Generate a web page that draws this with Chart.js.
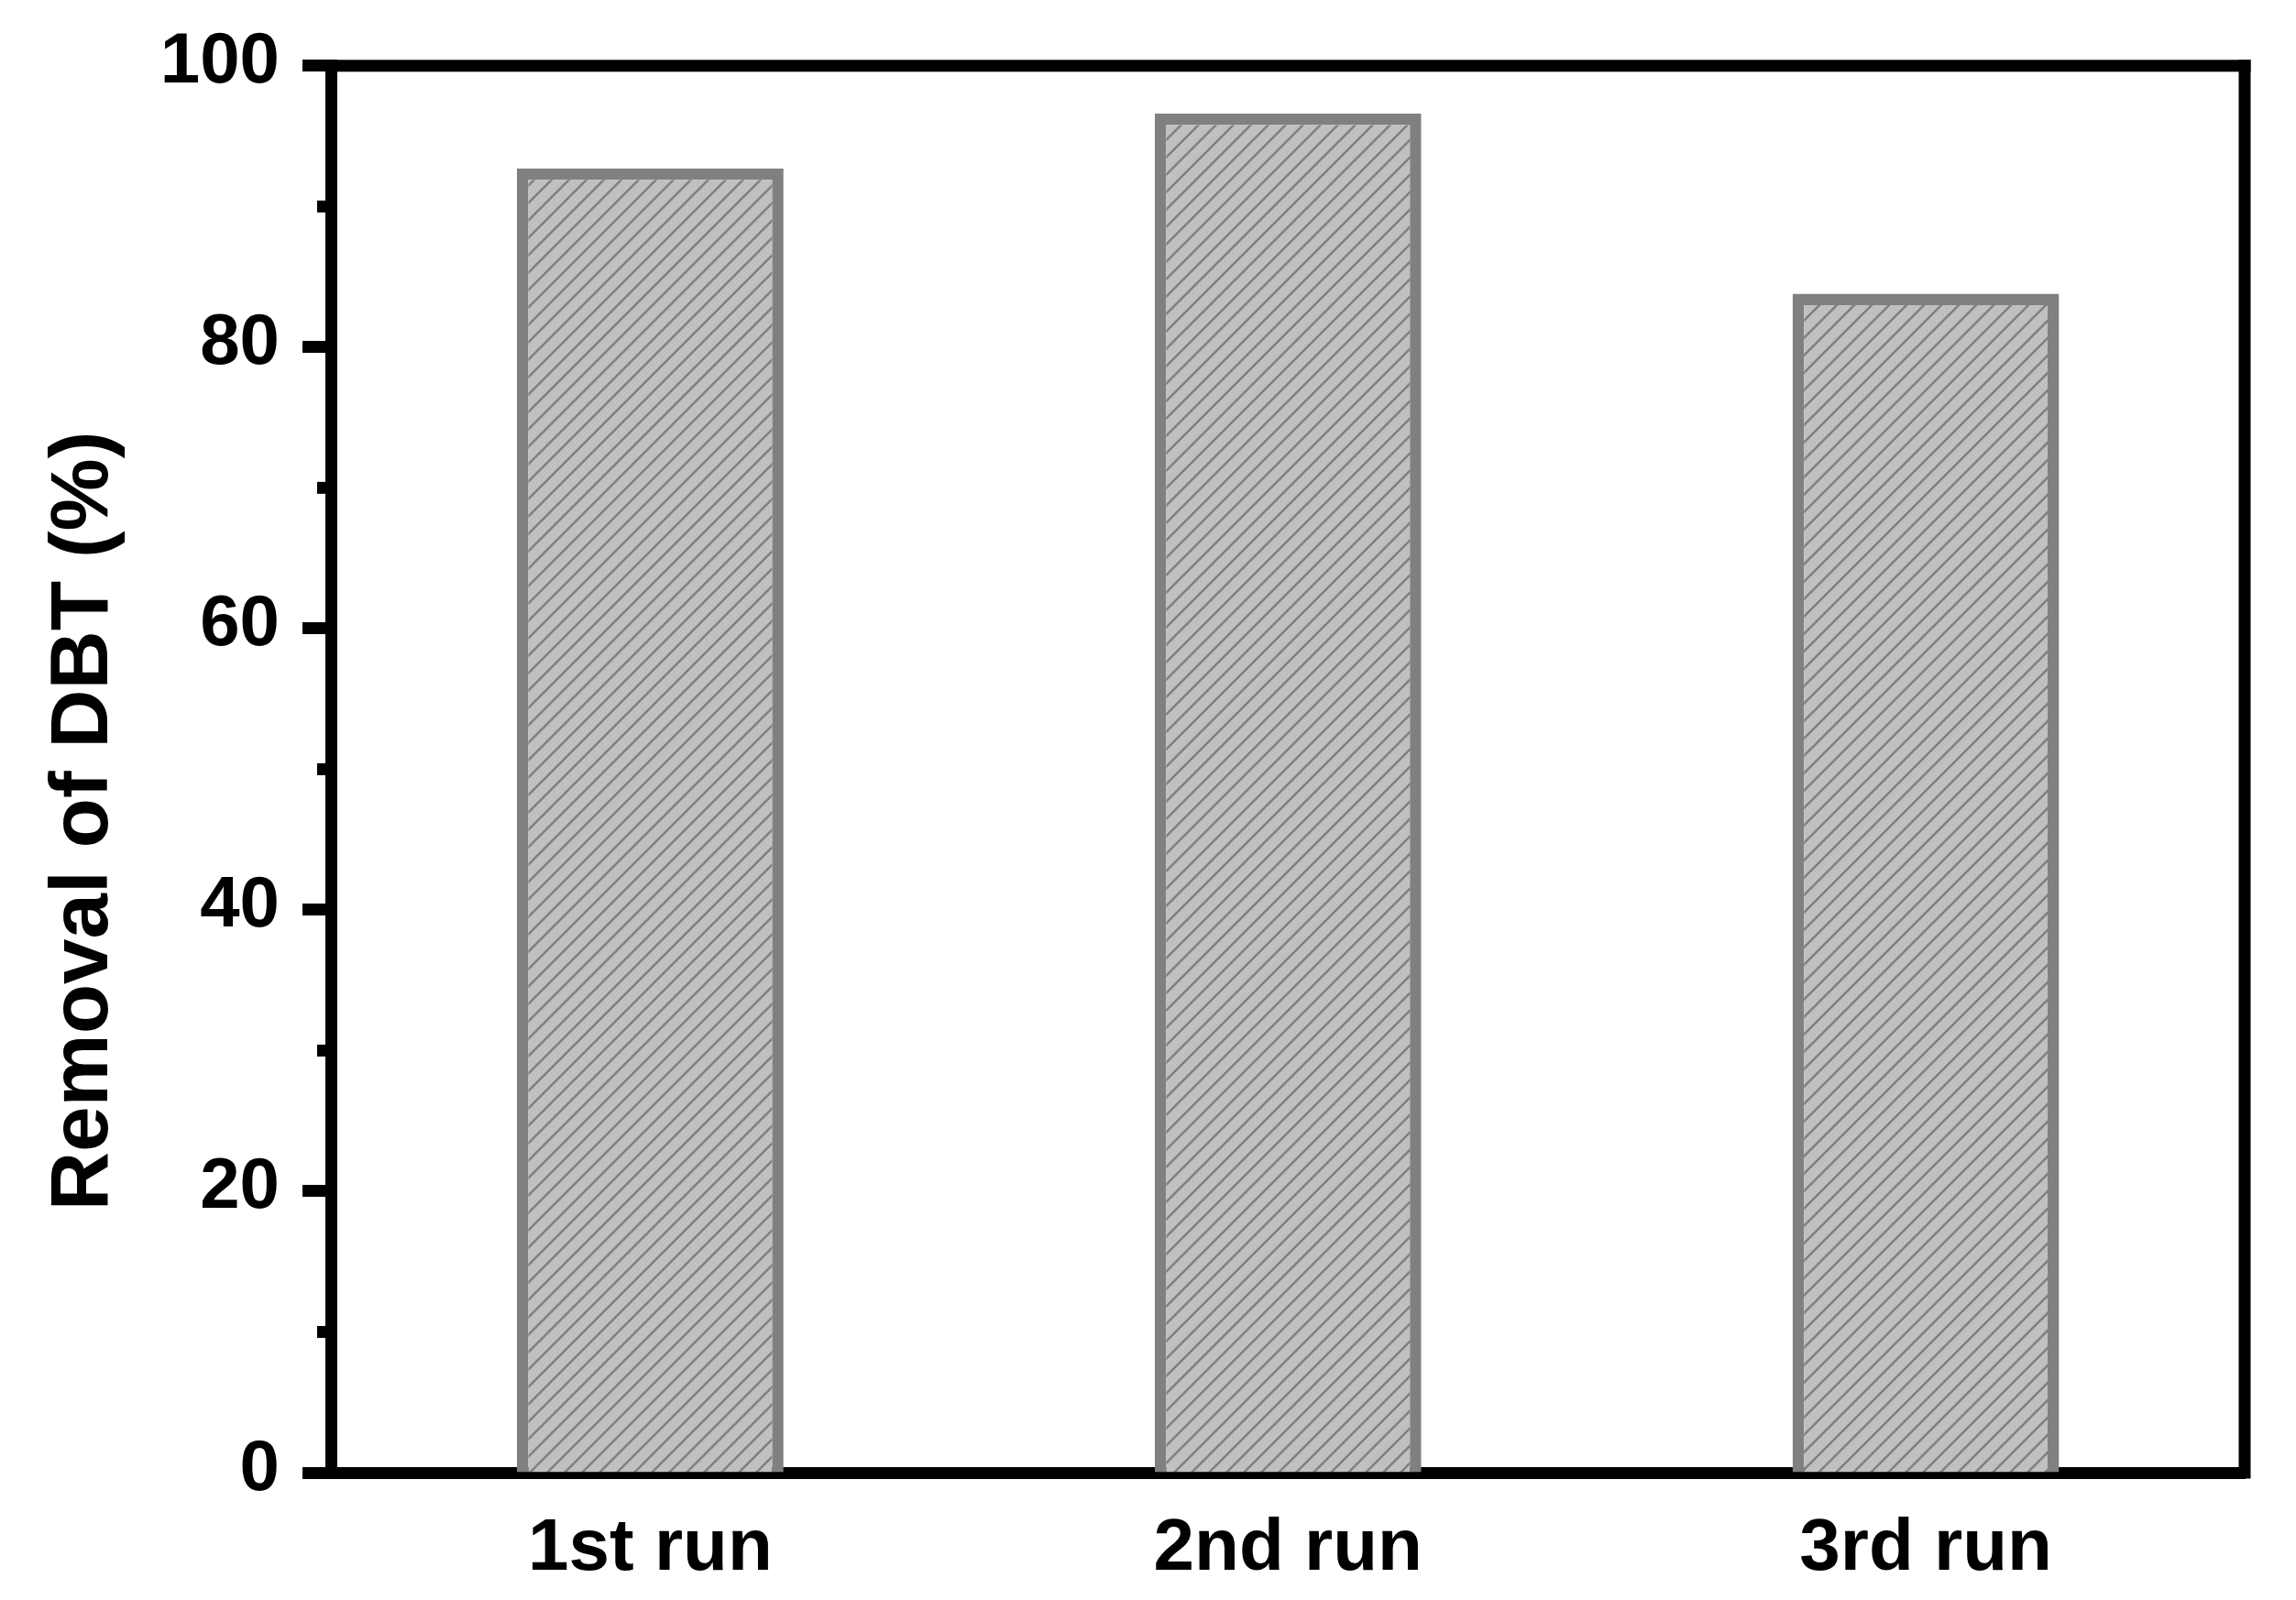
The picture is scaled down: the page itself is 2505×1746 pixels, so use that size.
<!DOCTYPE html>
<html><head><meta charset="utf-8">
<script src="https://cdn.jsdelivr.net/npm/chart.js@4.4.1/dist/chart.umd.min.js"></script>
<style>html,body{margin:0;padding:0;background:#fff;}#wrap{width:2505px;height:1746px;position:relative}</style>
</head><body><div id="wrap"><canvas id="c" width="2505" height="1746"></canvas></div>
<script>
const categories = ['1st run', '2nd run', '3rd run'];
const removal = [92.7, 96.6, 83.8];
const yTicks = [0, 20, 40, 60, 80, 100];
const minorTicks = [10, 30, 50, 70, 90];
const yTitle = 'Removal of DBT (%)';

const FONT = "'Liberation Sans', Arial, Helvetica, sans-serif";

function hatch() {
  const s = 19;
  const c = document.createElement('canvas');
  c.width = s; c.height = s;
  const g = c.getContext('2d');
  g.fillStyle = '#c0c0c0';
  g.fillRect(0, 0, s, s);
  g.strokeStyle = '#808080';
  g.lineWidth = 2.6;
  g.beginPath();
  g.moveTo(0, s); g.lineTo(s, 0);
  g.moveTo(-s / 2, s / 2); g.lineTo(s / 2, -s / 2);
  g.moveTo(s / 2, s * 1.5); g.lineTo(s * 1.5, s / 2);
  g.stroke();
  return g.createPattern(c, 'repeat');
}

const framePlugin = {
  id: 'frame',
  afterDraw(chart) {
    const { ctx, chartArea: a, scales: { y } } = chart;
    ctx.save();
    ctx.fillStyle = '#000';
    ctx.fillRect(a.left - 6.5, a.top - 6.5, a.right - a.left + 13, 13);
    ctx.fillRect(a.right - 6.5, a.top - 6.5, 13, a.bottom - a.top + 13);
    minorTicks.forEach(v => {
      const py = y.getPixelForValue(v);
      ctx.fillRect(a.left - 6.5 - 9, py - 6.5, 9, 13);
    });
    ctx.translate(117, (a.top + a.bottom) / 2 + 56.5);
    ctx.rotate(-Math.PI / 2);
    ctx.font = 'bold 89px ' + FONT;
    ctx.textAlign = 'center';
    ctx.textBaseline = 'alphabetic';
    ctx.fillText(yTitle, 0, 0);
    ctx.restore();
  }
};

new Chart(document.getElementById('c'), {
  type: 'bar',
  data: {
    labels: categories,
    datasets: [{
      data: removal,
      backgroundColor: hatch(),
      borderColor: '#808080',
      borderWidth: 12.5,
      borderSkipped: 'start',
      categoryPercentage: 1,
      barPercentage: 0.418
    }]
  },
  options: {
    responsive: false,
    animation: false,
    devicePixelRatio: 1,
    layout: { padding: { left: 0, top: 71, right: 56, bottom: 0 } },
    plugins: { legend: { display: false }, tooltip: { enabled: false } },
    scales: {
      x: {
        afterFit: s => { s.height = 139; },
        grid: { display: false, drawTicks: false },
        border: { display: true, width: 13, color: '#000' },
        ticks: { color: '#000', padding: 36, font: { family: FONT, size: 80, weight: 'bold' } }
      },
      y: {
        min: 0, max: 100,
        afterFit: s => { s.width = 361.5; },
        afterBuildTicks: s => { s.ticks = yTicks.map(v => ({ value: v })); },
        grid: { drawOnChartArea: false, drawTicks: true, tickLength: 31.5, tickWidth: 13, tickColor: '#000' },
        border: { display: true, width: 13, color: '#000' },
        ticks: { color: '#000', padding: 25, labelOffset: -3, font: { family: FONT, size: 78, weight: 'bold' } }
      }
    }
  },
  plugins: [framePlugin]
});
</script>
</body></html>
